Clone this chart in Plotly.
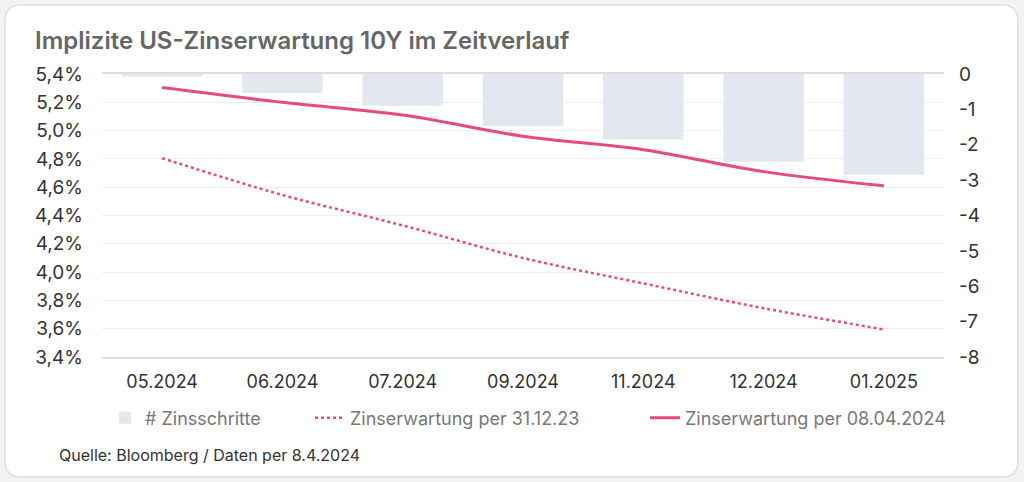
import plotly.graph_objects as go

# --- data ---
months = ["05.2024", "06.2024", "07.2024", "09.2024", "11.2024", "12.2024", "01.2025"]
zinsschritte = [-0.07, -0.54, -0.9, -1.48, -1.85, -2.48, -2.85]
erwartung_31_12_23 = [4.805, 4.545, 4.33, 4.10, 3.92, 3.745, 3.595]
erwartung_08_04_24 = [5.305, 5.20, 5.11, 4.96, 4.865, 4.71, 4.61]
right_ticks = [0, -1, -2, -3, -4, -5, -6, -7, -8]
right_labels = ["0", "-1", "-2", "-3", "-4", "-5", "-6", "-7", "-8"]

pink = "#E94A7B"
bar_col = "#E3E8F0"
font = "Inter"

fig = go.Figure()

# dotted line on y (left), bars on y2 (right), solid line on y3 so it sits above the bars
fig.add_trace(go.Bar(x=months, y=zinsschritte, name="# Zinsschritte",
                     marker=dict(color=bar_col, line=dict(width=0)), yaxis="y2",
                     legend="legend"))
fig.add_trace(go.Scatter(x=months, y=erwartung_31_12_23, name="Zinserwartung per 31.12.23",
                         mode="lines", line=dict(color=pink, width=2.5, dash="dot", shape="spline"),
                         yaxis="y", legend="legend2"))
fig.add_trace(go.Scatter(x=months, y=erwartung_08_04_24, name="Zinserwartung per 08.04.2024",
                         mode="lines", line=dict(color=pink, width=3, shape="spline"),
                         yaxis="y3", legend="legend3"))

# card background (rounded, light border)
L, R, T, B = 102, 944, 74, 357
def px(x): return (x - L) / (R - L)
def py(y): return (B - y) / (B - T)
x0, x1, y0, y1, r = 5, 1018, 5, 477, 16
path = (f"M {px(x0+r)},{py(y0)} L {px(x1-r)},{py(y0)} Q {px(x1)},{py(y0)} {px(x1)},{py(y0+r)} "
        f"L {px(x1)},{py(y1-r)} Q {px(x1)},{py(y1)} {px(x1-r)},{py(y1)} "
        f"L {px(x0+r)},{py(y1)} Q {px(x0)},{py(y1)} {px(x0)},{py(y1-r)} "
        f"L {px(x0)},{py(y0+r)} Q {px(x0)},{py(y0)} {px(x0+r)},{py(y0)} Z")
fig.add_shape(type="path", path=path, xref="paper", yref="paper", layer="below",
              fillcolor="white", line=dict(color="#E4E4E4", width=2))

fig.add_annotation(text="Quelle: Bloomberg / Daten per 8.4.2024", xref="paper", yref="paper",
                   x=px(57), y=py(455), xanchor="left", yanchor="middle", showarrow=False,
                   font=dict(family=font, size=16, color="#333333"))

leg = dict(orientation="h", y=py(418), xanchor="left", yanchor="middle",
           font=dict(family=font, size=18, color="#777777"), bgcolor="rgba(0,0,0,0)")

fig.update_layout(
    width=1024, height=482,
    margin=dict(l=L, r=1024 - R, t=T, b=482 - B, autoexpand=False),
    paper_bgcolor="#F3F3F3", plot_bgcolor="white",
    separators=",.",
    font=dict(family=font, size=19, color="#333333"),
    title=dict(text="Implizite US-Zinserwartung 10Y im Zeitverlauf",
               x=35 / 1024, xanchor="left", xref="container",
               y=1 - 41 / 482, yanchor="middle", yref="container",
               font=dict(family=font, size=24, color="#666666", weight=600)),
    bargap=0.33,
    showlegend=True,
    legend=dict(leg, x=px(105)),
    legend2=dict(leg, x=px(310)),
    legend3=dict(leg, x=px(645)),
    xaxis=dict(showgrid=False, showline=True, linecolor="#DDDDDD", linewidth=2, mirror=True,
               ticks="", ticklabelstandoff=7, tickfont=dict(size=18, color="#333333")),
    yaxis=dict(range=[3.4, 5.4], dtick=0.2, tickformat=".1f", ticksuffix="%",
               showgrid=True, gridcolor="#EEEEEE", gridwidth=1, zeroline=False,
               showline=False, ticks="", ticklabelstandoff=18, side="left"),
    yaxis2=dict(range=[-8, 0], overlaying="y", side="right", tickvals=right_ticks,
                ticktext=right_labels, showgrid=False, zeroline=False, ticks="",
                ticklabelstandoff=14, showline=False),
    yaxis3=dict(range=[3.4, 5.4], overlaying="y", visible=False),
)

fig.write_html("out.html", config={"displayModeBar": False},
               post_script="document.body.style.margin='0px';")
